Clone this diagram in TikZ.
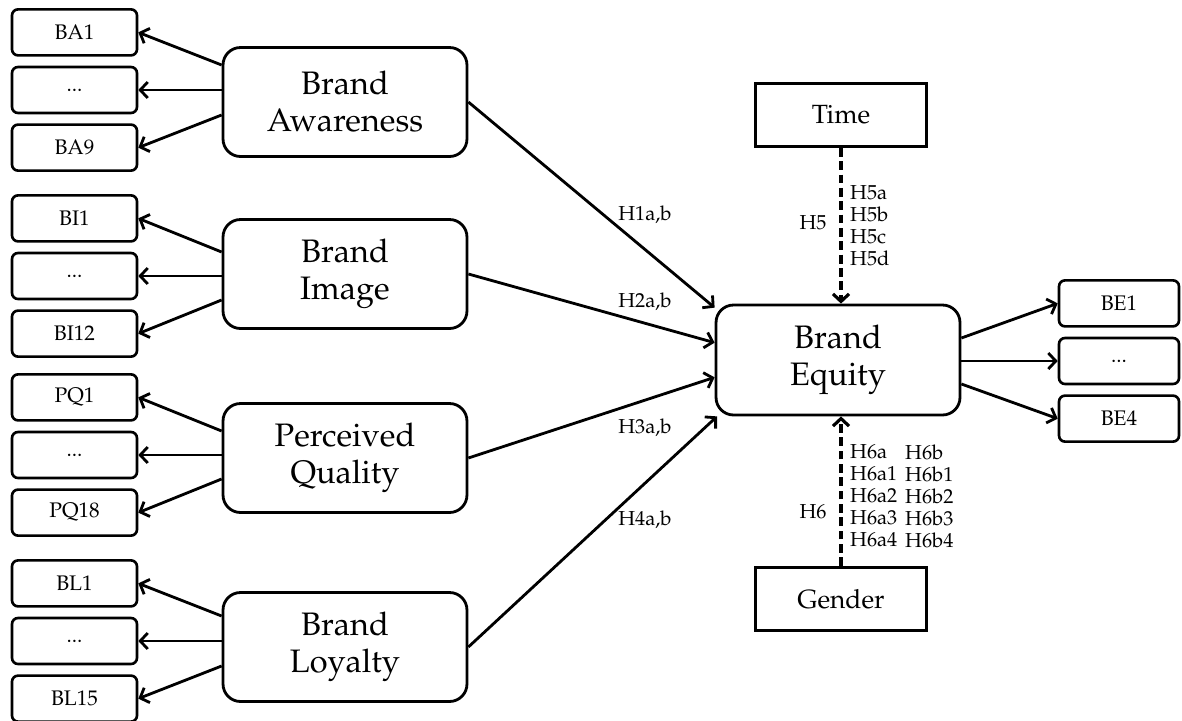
\documentclass[tikz,border=0pt]{standalone}
\usepackage[T1]{fontenc}
\usepackage{mathpazo}
\usetikzlibrary{positioning,arrows.meta}

\begin{document}
\begin{tikzpicture}[
  x=0.02cm, y=-0.02cm,
  node distance=0.18cm,
  every node/.style={align=center},
  item/.style={draw, rounded corners=0.12cm, line width=1.5pt, minimum width=2.5cm, minimum height=0.92cm, font=\fontsize{12}{14}\selectfont},
  construct/.style={draw, rounded corners=0.35cm, line width=1.6pt, minimum width=4.88cm, minimum height=2.18cm, font=\fontsize{18.5}{21}\selectfont},
  moderator/.style={draw, line width=1.6pt, minimum width=3.42cm, minimum height=1.26cm, font=\fontsize{15}{18}\selectfont},
  hyp/.style={font=\fontsize{11.5}{12.5}\selectfont},
  arrow/.style={-{Straight Barb[length=1.5mm,width=3.2mm]}, line width=1.6pt},
  dasharrow/.style={arrow, line width=1.8pt, dash pattern=on 5pt off 2.6pt}
]
\useasboundingbox (0,0) rectangle (1182,720);

% constructs
\node[construct] (aw) at (345,102) {Brand\\Awareness};
\node[construct] (img) at (345,274) {Brand\\Image};
\node[construct] (qual) at (345,458) {Perceived\\Quality};
\node[construct] (loy) at (345,647) {Brand\\Loyalty};
\node[construct, minimum height=2.2cm] (eq) at (838,360) {Brand\\Equity};

% items
\node[item] (ba2) at (74.5,90) {...};
\node[item] (ba1) [above=of ba2] {BA1};
\node[item] (ba3) [below=of ba2] {BA9};
\node[item] (bi2) at (74.5,276) {...};
\node[item] (bi1) [above=of bi2] {BI1};
\node[item] (bi3) [below=of bi2] {BI12};
\node[item] (pq2) at (74.5,455) {...};
\node[item] (pq1) [above=of pq2] {PQ1};
\node[item] (pq3) [below=of pq2] {PQ18};
\node[item] (bl2) at (74.5,641) {...};
\node[item] (bl1) [above=of bl2] {BL1};
\node[item] (bl3) [below=of bl2] {BL15};
\node[item, minimum width=2.4cm] (be2) at (1119,361) {...};
\node[item, minimum width=2.4cm] (be1) [above=of be2] {BE1};
\node[item, minimum width=2.4cm] (be3) [below=of be2] {BE4};

% moderators
\node[moderator] (time) at (841,115) {Time};
\node[moderator] (gen) at (841,599) {Gender};

% hypotheses
\node[hyp] (h1) at (645,215) {H1a,b};
\node[hyp] (h2) at (645,302) {H2a,b};
\node[hyp] (h3) at (645,428) {H3a,b};
\node[hyp] (h4) at (645,520) {H4a,b};
\node[hyp] (h5) at (813,223) {H5};
\node[hyp, align=left, anchor=west] (h5list) at (844,226) {H5a\\H5b\\H5c\\H5d};
\node[hyp] (h6) at (813,512) {H6};
\node[hyp, align=left, anchor=west] (h6alist) at (844,496) {H6a\\H6a1\\H6a2\\H6a3\\H6a4};
\node[hyp, align=left, anchor=west] (h6blist) at (899,496) {H6b\\H6b1\\H6b2\\H6b3\\H6b4};

% reflective items
\draw[arrow] ([yshift=0.5cm]aw.west |- ba2) -- (ba1.east);
\draw[arrow] (aw.west |- ba2) -- (ba2.east);
\draw[arrow] ([yshift=-0.5cm]aw.west |- ba2) -- (ba3.east);
\draw[arrow] ([yshift=0.48cm]img.west |- bi2) -- (bi1.east);
\draw[arrow] (img.west |- bi2) -- (bi2.east);
\draw[arrow] ([yshift=-0.48cm]img.west |- bi2) -- (bi3.east);
\draw[arrow] ([yshift=0.48cm]qual.west |- pq2) -- (pq1.east);
\draw[arrow] (qual.west |- pq2) -- (pq2.east);
\draw[arrow] ([yshift=-0.48cm]qual.west |- pq2) -- (pq3.east);
\draw[arrow] ([yshift=0.5cm]loy.west |- bl2) -- (bl1.east);
\draw[arrow] (loy.west |- bl2) -- (bl2.east);
\draw[arrow] ([yshift=-0.5cm]loy.west |- bl2) -- (bl3.east);
\draw[arrow] ([yshift=0.46cm]eq.east |- be2) -- (be1.west);
\draw[arrow] (eq.east |- be2) -- (be2.west);
\draw[arrow] ([yshift=-0.46cm]eq.east |- be2) -- (be3.west);

% structural paths
\draw[arrow] (aw.east) -- (eq.157);
\draw[arrow] (img.east) -- (eq.172);
\draw[arrow] (qual.east) -- (eq.188);
\draw[arrow] (loy.east) -- (eq.205);
\draw[dasharrow] (time) -- (time |- eq.north);
\draw[dasharrow] (gen) -- (gen |- eq.south);
\end{tikzpicture}
\end{document}
